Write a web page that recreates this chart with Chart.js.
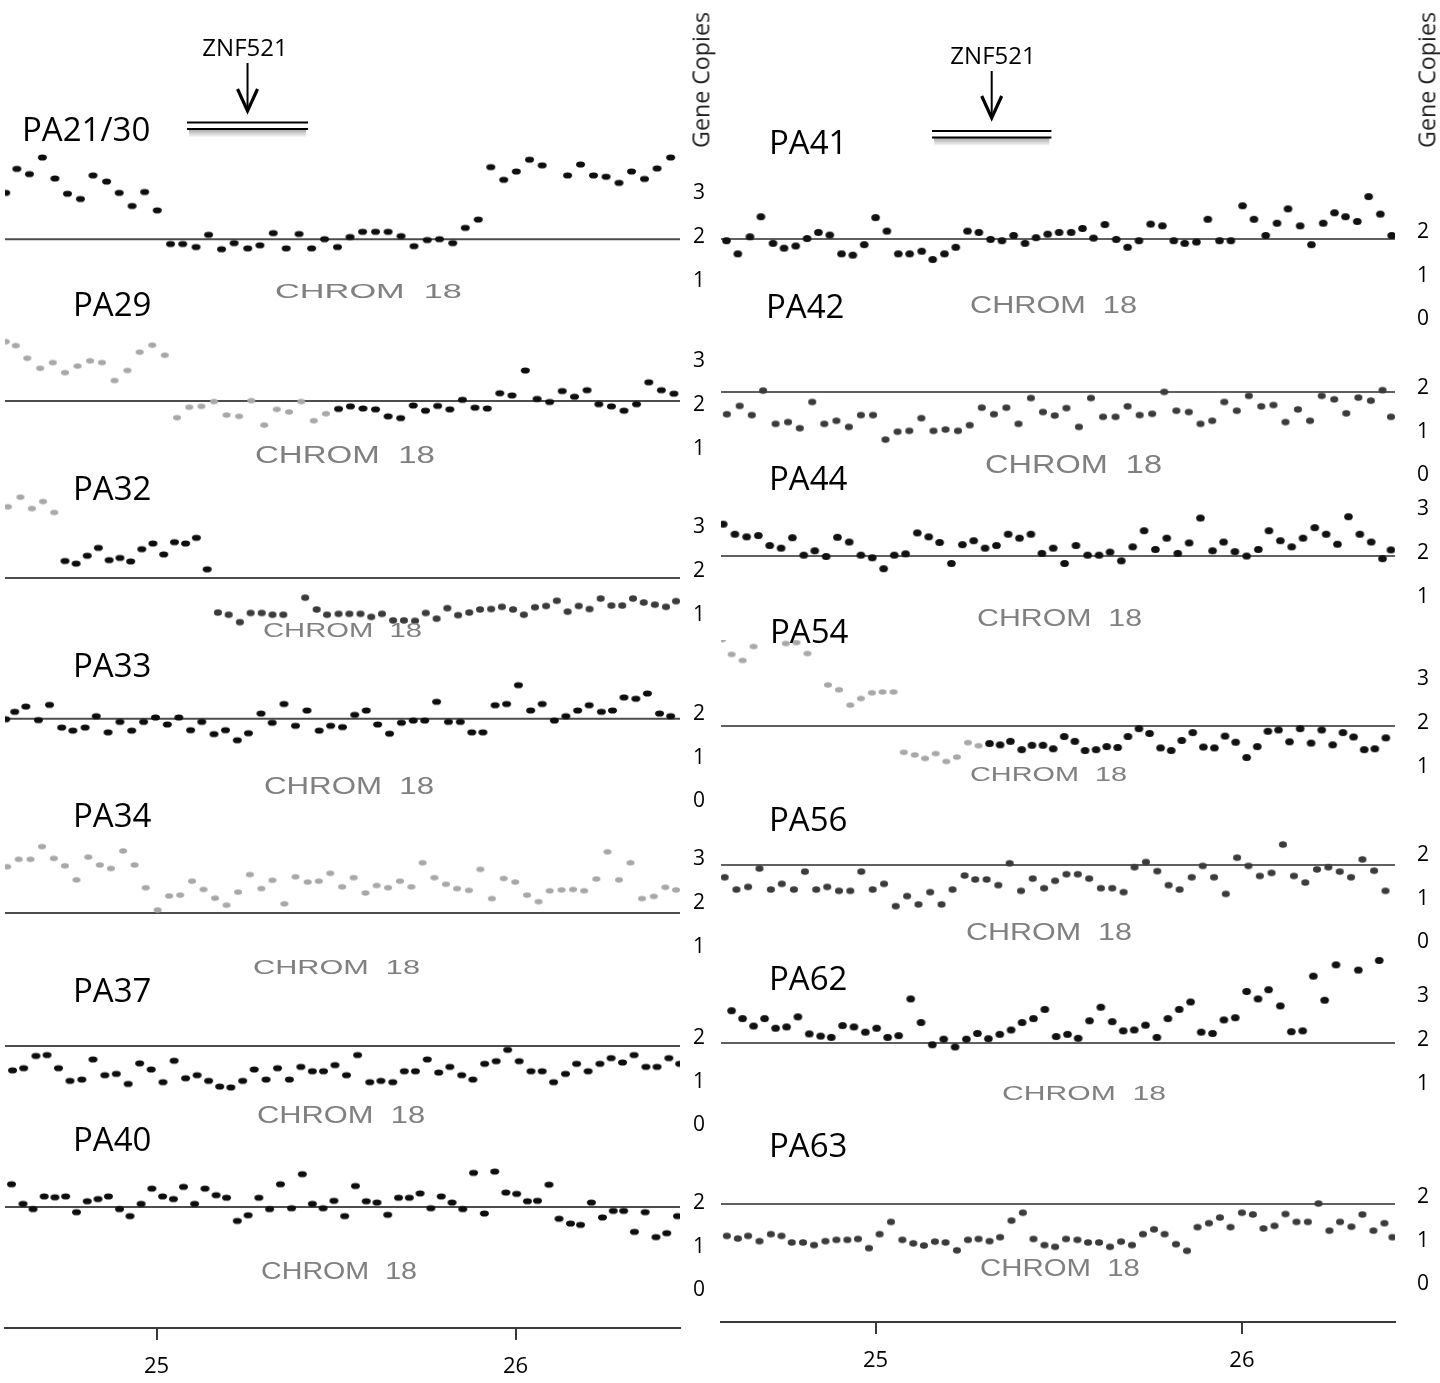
<!DOCTYPE html>
<html>
<head>
<meta charset="utf-8">
<title>ZNF521 gene copies, chromosome 18</title>
<script src="https://cdn.jsdelivr.net/npm/chart.js@4.4.1/dist/chart.umd.min.js"></script>
<style>
  html, body { margin: 0; padding: 0; background: #fff; }
  body { position: relative; width: 1440px; height: 1383px; overflow: hidden; font-family: 'Open Sans', sans-serif; }
  .col { position: absolute; top: 0; }
  .txt { position: absolute; white-space: pre; line-height: 1; }
  .name { font-size: 33px; color: #000; transform: translateY(-50%); }
  .chrom { font-family: 'Liberation Sans', Arial, sans-serif; color: #808080; transform-origin: 0 50%; }
  .gene { font-size: 24px; color: #000; transform: translate(-50%, -50%); }
  .ylab { color: #222; transform: translate(-50%, -50%) rotate(-90deg); }
</style>
</head>
<body>
<canvas id="leftChart" class="col" width="715" height="1383" style="left:0"></canvas>
<canvas id="rightChart" class="col" width="725" height="1383" style="left:715px"></canvas>
<div id="labels"></div>
<script>
// ---- Data: positions in Mb on chromosome 18, values in gene copies ----
const chromTicks = [25, 26];
const geneName = 'ZNF521';
const axisTitle = 'Gene Copies';
const chromLabel = 'CHROM  18';

const leftNames = ['PA21/30', 'PA29', 'PA32', 'PA33', 'PA34', 'PA37', 'PA40'];
const rightNames = ['PA41', 'PA42', 'PA44', 'PA54', 'PA56', 'PA62', 'PA63'];
const leftTicks = [[1, 2, 3], [1, 2, 3], [1, 2, 3], [0, 1, 2], [1, 2, 3], [0, 1, 2], [0, 1, 2]];
const rightTicks = [[0, 1, 2], [0, 1, 2], [1, 2, 3], [1, 2, 3], [0, 1, 2], [1, 2, 3], [0, 1, 2]];
const leftBaseline = [1.95, 2.09, 1.84, 1.89, 1.77, 1.82, 1.91];
const rightBaseline = [1.84, 1.91, 1.93, 1.93, 1.77, 1.93, 1.84];
const leftGene = [25.085, 25.422];
const rightGene = [25.154, 25.480];

const pa2130Pos = [24.580, 24.611, 24.646, 24.682, 24.717, 24.752, 24.788, 24.823, 24.861, 24.896, 24.932, 24.967, 25.002,
  25.039, 25.073, 25.110, 25.145, 25.181, 25.216, 25.254, 25.288, 25.325, 25.361, 25.397, 25.432, 25.468, 25.504, 25.539,
  25.574, 25.610, 25.645, 25.681, 25.717, 25.754, 25.788, 25.825, 25.860, 25.896, 25.931, 25.967, 26.002, 26.039, 26.074,
  26.145, 26.181, 26.217, 26.252, 26.288, 26.323, 26.359, 26.394, 26.432];
const pa2130Copies = [3.01, 3.56, 3.44, 3.82, 3.34, 2.99, 2.87, 3.41, 3.27, 3.01, 2.71, 3.03, 2.61,
  1.84, 1.84, 1.77, 2.05, 1.72, 1.86, 1.74, 1.81, 2.09, 1.74, 2.07, 1.74, 1.95, 1.77, 2.00,
  2.12, 2.12, 2.12, 2.02, 1.79, 1.93, 1.95, 1.86, 2.21, 2.40, 3.60, 3.31, 3.50, 3.77, 3.64,
  3.41, 3.66, 3.41, 3.38, 3.24, 3.50, 3.33, 3.57, 3.82];

const pa29GrayPos = [24.580, 24.608, 24.640, 24.676, 24.711, 24.745, 24.780, 24.815, 24.848, 24.883, 24.919, 24.953, 24.988,
  25.023, 25.057, 25.091, 25.125, 25.160, 25.195, 25.230, 25.264, 25.300, 25.335, 25.369, 25.403, 25.438, 25.472];
const pa29GrayCopies = [3.45, 3.36, 3.07, 2.84, 2.97, 2.74, 2.89, 3.01, 2.97, 2.56, 2.79, 3.21, 3.37,
  3.14, 1.71, 1.95, 1.97, 2.08, 1.77, 1.74, 2.10, 1.54, 1.90, 1.84, 2.08, 1.64, 1.80];
const pa29Pos = [25.507, 25.540, 25.575, 25.610, 25.645, 25.680, 25.715, 25.749, 25.783, 25.817, 25.852, 25.887, 25.921,
  25.956, 25.990, 26.027, 26.060, 26.095, 26.130, 26.164, 26.199, 26.232, 26.267, 26.302, 26.337, 26.371, 26.406, 26.441];
const pa29Copies = [1.91, 1.97, 1.92, 1.90, 1.74, 1.70, 1.99, 1.87, 1.98, 1.90, 2.12, 1.94, 1.92,
  2.27, 2.22, 2.79, 2.14, 2.07, 2.32, 2.19, 2.34, 2.02, 1.97, 1.87, 2.02, 2.52, 2.34, 2.26];

const pa32GrayPos = [24.586, 24.621, 24.653, 24.684, 24.715];
const pa32GrayCopies = [3.47, 3.69, 3.43, 3.59, 3.34];
const pa32Pos = [24.745, 24.776, 24.807, 24.838, 24.868, 24.898, 24.928, 24.959, 24.990, 25.020, 25.050, 25.081, 25.111, 25.141];
const pa32Copies = [2.23, 2.17, 2.35, 2.53, 2.25, 2.30, 2.22, 2.50, 2.63, 2.38, 2.66, 2.63, 2.76, 2.04];
const pa32LowPos = [25.171, 25.201, 25.232, 25.262, 25.293, 25.323, 25.353, 25.414, 25.446, 25.475, 25.507, 25.537, 25.568,
  25.598, 25.628, 25.659, 25.689, 25.720, 25.750, 25.780, 25.810, 25.840, 25.871, 25.901, 25.932, 25.962, 25.993, 26.023,
  26.054, 26.085, 26.115, 26.145, 26.176, 26.206, 26.237, 26.267, 26.297, 26.327, 26.357, 26.388, 26.419, 26.447];
const pa32LowCopies = [1.05, 1.00, 0.83, 1.04, 1.04, 1.00, 1.00, 1.39, 1.12, 1.00, 1.02, 1.02, 1.02,
  0.95, 1.02, 0.87, 0.87, 0.86, 1.04, 0.91, 1.15, 0.99, 1.05, 1.12, 1.13, 1.18, 1.12, 1.00,
  1.17, 1.20, 1.32, 1.07, 1.20, 1.13, 1.37, 1.21, 1.21, 1.37, 1.28, 1.23, 1.18, 1.31];

const pa33Pos = [24.580, 24.605, 24.636, 24.671, 24.702, 24.736, 24.767, 24.801, 24.832, 24.865, 24.898, 24.931, 24.964,
  24.997, 25.030, 25.062, 25.095, 25.126, 25.160, 25.192, 25.225, 25.256, 25.291, 25.322, 25.355, 25.387, 25.419, 25.453,
  25.485, 25.518, 25.552, 25.584, 25.616, 25.649, 25.682, 25.715, 25.747, 25.780, 25.813, 25.846, 25.878, 25.909, 25.943,
  25.975, 26.008, 26.042, 26.074, 26.108, 26.140, 26.173, 26.205, 26.239, 26.270, 26.302, 26.335, 26.367, 26.401, 26.432];
const pa33Copies = [1.88, 2.05, 2.17, 1.86, 2.21, 1.69, 1.62, 1.69, 1.95, 1.58, 1.82, 1.62, 1.82,
  1.92, 1.76, 1.92, 1.63, 1.82, 1.54, 1.63, 1.40, 1.56, 2.01, 1.80, 2.23, 1.73, 2.08, 1.62,
  1.73, 1.70, 1.98, 2.08, 1.76, 1.55, 1.80, 1.85, 1.85, 2.28, 1.82, 1.82, 1.58, 1.58, 2.20,
  2.23, 2.66, 2.08, 2.23, 1.85, 1.95, 2.08, 2.20, 2.05, 2.08, 2.38, 2.35, 2.47, 2.01, 1.95];

const pa34Pos = [24.584, 24.616, 24.649, 24.681, 24.714, 24.745, 24.777, 24.810, 24.842, 24.873, 24.907, 24.939, 24.970,
  25.003, 25.035, 25.066, 25.099, 25.131, 25.163, 25.195, 25.227, 25.260, 25.292, 25.323, 25.356, 25.387, 25.421, 25.452,
  25.484, 25.517, 25.549, 25.582, 25.613, 25.645, 25.678, 25.710, 25.741, 25.774, 25.806, 25.837, 25.870, 25.902, 25.934,
  25.967, 25.999, 26.032, 26.064, 26.095, 26.128, 26.160, 26.191, 26.225, 26.256, 26.288, 26.320, 26.352, 26.385, 26.417, 26.447];
const pa34Copies = [2.83, 3.00, 3.00, 3.29, 3.02, 2.85, 2.53, 3.05, 2.87, 2.79, 3.19, 2.87, 2.35,
  1.84, 2.16, 2.18, 2.50, 2.31, 2.11, 1.95, 2.25, 2.65, 2.33, 2.52, 1.98, 2.60, 2.48, 2.50,
  2.68, 2.37, 2.58, 2.23, 2.40, 2.35, 2.50, 2.37, 2.92, 2.58, 2.43, 2.33, 2.29, 2.77, 2.10,
  2.56, 2.48, 2.18, 2.03, 2.28, 2.30, 2.31, 2.28, 2.55, 3.17, 2.53, 2.92, 2.10, 2.15, 2.36, 2.30];

const pa37Pos = [24.599, 24.630, 24.664, 24.695, 24.727, 24.759, 24.792, 24.823, 24.856, 24.888, 24.921, 24.953, 24.985,
  25.018, 25.049, 25.081, 25.113, 25.145, 25.176, 25.207, 25.240, 25.272, 25.305, 25.337, 25.370, 25.402, 25.434, 25.465,
  25.497, 25.529, 25.560, 25.594, 25.625, 25.658, 25.690, 25.721, 25.754, 25.786, 25.817, 25.850, 25.881, 25.914, 25.946,
  25.978, 26.010, 26.043, 26.074, 26.106, 26.139, 26.170, 26.202, 26.235, 26.266, 26.298, 26.330, 26.363, 26.394, 26.427, 26.457];
const pa37Copies = [1.26, 1.31, 1.59, 1.61, 1.31, 1.02, 1.05, 1.51, 1.15, 1.18, 0.95, 1.42, 1.28,
  0.99, 1.48, 1.08, 1.15, 1.02, 0.89, 0.87, 1.02, 1.28, 1.05, 1.31, 1.05, 1.34, 1.24, 1.24,
  1.38, 1.15, 1.61, 0.99, 1.02, 0.99, 1.24, 1.24, 1.51, 1.21, 1.34, 1.15, 1.05, 1.41, 1.47,
  1.73, 1.47, 1.24, 1.24, 0.99, 1.18, 1.41, 1.24, 1.41, 1.54, 1.44, 1.61, 1.34, 1.34, 1.54, 1.41];

const pa40Pos = [24.596, 24.628, 24.656, 24.687, 24.717, 24.747, 24.777, 24.807, 24.837, 24.866, 24.897, 24.926, 24.957,
  24.987, 25.017, 25.047, 25.075, 25.106, 25.135, 25.166, 25.195, 25.225, 25.255, 25.285, 25.315, 25.345, 25.376, 25.406,
  25.434, 25.464, 25.494, 25.524, 25.554, 25.584, 25.614, 25.644, 25.674, 25.704, 25.734, 25.764, 25.793, 25.823, 25.853,
  25.883, 25.913, 25.942, 25.973, 26.003, 26.033, 26.061, 26.093, 26.121, 26.153, 26.181, 26.211, 26.242, 26.272, 26.301,
  26.331, 26.361, 26.391, 26.421, 26.451];
const pa40Copies = [2.43, 1.98, 1.86, 2.15, 2.13, 2.15, 1.79, 2.04, 2.09, 2.15, 1.86, 1.70, 1.98,
  2.33, 2.15, 2.09, 2.37, 1.98, 2.33, 2.18, 2.12, 1.59, 1.72, 2.12, 1.86, 2.43, 1.88, 2.66,
  1.98, 1.88, 2.05, 1.70, 2.39, 2.04, 2.01, 1.73, 2.12, 2.12, 2.22, 1.88, 2.15, 2.01, 1.86,
  2.69, 1.76, 2.72, 2.24, 2.21, 2.04, 2.05, 2.42, 1.64, 1.53, 1.50, 2.01, 1.67, 1.82, 1.82,
  1.34, 1.79, 1.22, 1.31, 1.70];

const pa41Pos = [24.593, 24.624, 24.657, 24.687, 24.720, 24.750, 24.782, 24.813, 24.844, 24.875, 24.907, 24.938, 24.969,
  25.000, 25.031, 25.062, 25.093, 25.126, 25.156, 25.188, 25.219, 25.251, 25.282, 25.314, 25.345, 25.377, 25.408, 25.438,
  25.470, 25.501, 25.534, 25.565, 25.595, 25.626, 25.657, 25.688, 25.719, 25.751, 25.783, 25.814, 25.844, 25.876, 25.907,
  25.939, 25.970, 26.002, 26.033, 26.065, 26.096, 26.126, 26.159, 26.190, 26.222, 26.253, 26.283, 26.315, 26.346, 26.378, 26.409];
const pa41Copies = [1.80, 1.50, 1.89, 2.35, 1.74, 1.63, 1.68, 1.85, 1.99, 1.93, 1.50, 1.47, 1.71,
  2.33, 2.02, 1.50, 1.50, 1.56, 1.37, 1.50, 1.65, 2.02, 1.99, 1.83, 1.80, 1.92, 1.74, 1.87,
  1.95, 1.99, 1.99, 2.08, 1.86, 2.17, 1.83, 1.65, 1.80, 2.18, 2.14, 1.80, 1.74, 1.77, 2.29,
  1.80, 1.80, 2.60, 2.29, 1.92, 2.20, 2.53, 2.14, 1.71, 2.20, 2.44, 2.35, 2.24, 2.81, 2.41, 1.92];

const pa42Pos = [24.594, 24.629, 24.662, 24.693, 24.727, 24.761, 24.793, 24.827, 24.860, 24.893, 24.927, 24.960, 24.993,
  25.027, 25.060, 25.092, 25.125, 25.158, 25.191, 25.225, 25.257, 25.290, 25.323, 25.357, 25.390, 25.424, 25.457, 25.489,
  25.521, 25.555, 25.588, 25.621, 25.655, 25.688, 25.721, 25.755, 25.788, 25.821, 25.855, 25.887, 25.919, 25.952, 25.986,
  26.019, 26.053, 26.086, 26.119, 26.153, 26.186, 26.218, 26.252, 26.285, 26.318, 26.352, 26.384, 26.407];
const pa42Copies = [1.40, 1.59, 1.38, 1.94, 1.18, 1.22, 1.08, 1.68, 1.18, 1.25, 1.11, 1.38, 1.38,
  0.82, 1.00, 1.02, 1.31, 1.02, 1.05, 1.02, 1.15, 1.55, 1.40, 1.55, 1.18, 1.77, 1.45, 1.37,
  1.54, 1.11, 1.77, 1.34, 1.34, 1.58, 1.38, 1.41, 1.91, 1.48, 1.45, 1.18, 1.25, 1.68, 1.48,
  1.82, 1.58, 1.61, 1.22, 1.51, 1.25, 1.82, 1.74, 1.42, 1.78, 1.71, 1.95, 1.34];

const pa44Pos = [24.584, 24.616, 24.648, 24.680, 24.711, 24.742, 24.773, 24.804, 24.834, 24.865, 24.896, 24.928, 24.960,
  24.991, 25.022, 25.051, 25.082, 25.114, 25.145, 25.175, 25.207, 25.237, 25.268, 25.299, 25.330, 25.362, 25.393, 25.424,
  25.454, 25.485, 25.516, 25.547, 25.579, 25.610, 25.640, 25.671, 25.702, 25.733, 25.764, 25.795, 25.825, 25.856, 25.887,
  25.920, 25.950, 25.981, 26.013, 26.045, 26.074, 26.105, 26.136, 26.167, 26.199, 26.230, 26.261, 26.291, 26.322, 26.353,
  26.384, 26.407];
const pa44Copies = [2.66, 2.43, 2.37, 2.40, 2.17, 2.11, 2.35, 1.95, 2.05, 1.92, 2.36, 2.25, 1.95,
  1.89, 1.64, 1.95, 1.98, 2.46, 2.37, 2.24, 1.76, 2.19, 2.28, 2.11, 2.17, 2.43, 2.34, 2.43,
  1.99, 2.11, 1.76, 2.17, 1.95, 1.95, 2.02, 1.82, 2.14, 2.51, 2.08, 2.34, 1.99, 2.23, 2.80,
  2.05, 2.25, 2.03, 1.93, 2.08, 2.51, 2.28, 2.14, 2.34, 2.58, 2.43, 2.20, 2.83, 2.43, 2.25,
  1.87, 2.07];

const pa54GrayPos = [24.581, 24.607, 24.637, 24.667, 24.755, 24.784, 24.814, 24.870, 24.900, 24.931, 24.960,
  24.990, 25.019, 25.049, 25.077, 25.107, 25.135, 25.164, 25.193, 25.222, 25.252, 25.281];
const pa54GrayCopies = [3.91, 3.57, 3.43, 3.75, 3.82, 3.84, 3.59, 2.87, 2.76, 2.41, 2.56,
  2.69, 2.71, 2.71, 1.33, 1.27, 1.19, 1.30, 1.12, 1.22, 1.55, 1.48];
const pa54Pos = [25.311, 25.340, 25.368, 25.399, 25.427, 25.457, 25.485, 25.515, 25.544, 25.572, 25.602, 25.631, 25.661,
  25.689, 25.719, 25.748, 25.778, 25.807, 25.836, 25.866, 25.895, 25.925, 25.954, 25.983, 26.013, 26.042, 26.071, 26.100,
  26.130, 26.159, 26.189, 26.218, 26.248, 26.276, 26.305, 26.334, 26.363, 26.393];
const pa54Copies = [1.53, 1.50, 1.58, 1.39, 1.49, 1.49, 1.41, 1.69, 1.58, 1.37, 1.39, 1.46, 1.44,
  1.69, 1.87, 1.76, 1.43, 1.37, 1.60, 1.78, 1.45, 1.43, 1.70, 1.56, 1.21, 1.46, 1.81, 1.84,
  1.57, 1.87, 1.54, 1.84, 1.50, 1.78, 1.68, 1.39, 1.41, 1.66];

const pa56Pos = [24.588, 24.620, 24.652, 24.683, 24.714, 24.744, 24.777, 24.807, 24.838, 24.868, 24.900, 24.931, 24.961,
  24.992, 25.023, 25.055, 25.086, 25.117, 25.149, 25.180, 25.210, 25.243, 25.272, 25.303, 25.335, 25.366, 25.397, 25.429,
  25.460, 25.490, 25.521, 25.552, 25.583, 25.615, 25.646, 25.677, 25.707, 25.738, 25.769, 25.800, 25.830, 25.863, 25.893,
  25.924, 25.956, 25.987, 26.018, 26.049, 26.081, 26.112, 26.142, 26.173, 26.205, 26.236, 26.267, 26.298, 26.329, 26.361, 26.392];
const pa56Copies = [1.49, 1.21, 1.27, 1.69, 1.21, 1.34, 1.21, 1.62, 1.21, 1.27, 1.18, 1.18, 1.62,
  1.21, 1.34, 0.83, 1.06, 0.87, 1.15, 0.87, 1.21, 1.53, 1.44, 1.44, 1.31, 1.81, 1.18, 1.46,
  1.24, 1.41, 1.56, 1.56, 1.46, 1.24, 1.24, 1.15, 1.72, 1.84, 1.63, 1.31, 1.21, 1.49, 1.75,
  1.49, 1.11, 1.94, 1.75, 1.52, 1.59, 2.24, 1.52, 1.37, 1.67, 1.72, 1.62, 1.49, 1.90, 1.64, 1.18];

const pa62Pos = [24.607, 24.637, 24.667, 24.697, 24.727, 24.757, 24.788, 24.819, 24.850, 24.879, 24.910, 24.941, 24.972,
  25.003, 25.033, 25.063, 25.096, 25.124, 25.155, 25.186, 25.217, 25.248, 25.278, 25.308, 25.339, 25.370, 25.400, 25.431,
  25.462, 25.493, 25.524, 25.553, 25.584, 25.615, 25.646, 25.676, 25.706, 25.737, 25.768, 25.798, 25.829, 25.860, 25.889,
  25.920, 25.951, 25.982, 26.013, 26.044, 26.073, 26.105, 26.135, 26.166, 26.195, 26.226, 26.257, 26.318, 26.375];
const pa62Copies = [2.67, 2.49, 2.32, 2.49, 2.27, 2.30, 2.53, 2.14, 2.09, 2.06, 2.33, 2.30, 2.18,
  2.27, 2.06, 2.10, 2.94, 2.40, 1.89, 2.02, 1.84, 2.02, 2.15, 2.03, 2.13, 2.23, 2.40, 2.49,
  2.70, 2.08, 2.13, 2.04, 2.44, 2.75, 2.42, 2.21, 2.23, 2.34, 2.06, 2.49, 2.70, 2.87, 2.18,
  2.15, 2.46, 2.51, 3.11, 2.94, 3.15, 2.78, 2.19, 2.21, 3.46, 2.91, 3.72, 3.60, 3.82];

const pa63Pos = [24.594, 24.624, 24.652, 24.683, 24.714, 24.743, 24.771, 24.802, 24.832, 24.863, 24.893, 24.923, 24.952,
  24.982, 25.011, 25.042, 25.073, 25.103, 25.132, 25.162, 25.191, 25.222, 25.252, 25.281, 25.311, 25.340, 25.371, 25.402,
  25.431, 25.461, 25.490, 25.520, 25.551, 25.580, 25.610, 25.640, 25.670, 25.700, 25.730, 25.760, 25.789, 25.820, 25.850,
  25.879, 25.910, 25.940, 25.969, 26.000, 26.030, 26.059, 26.089, 26.119, 26.149, 26.180, 26.209, 26.239, 26.268, 26.299,
  26.329, 26.359, 26.389, 26.411];
const pa63Copies = [1.11, 1.05, 1.11, 0.99, 1.15, 1.11, 0.96, 0.96, 0.90, 0.99, 1.02, 1.02, 1.04,
  0.83, 1.15, 1.43, 1.02, 0.94, 0.89, 0.98, 0.96, 0.78, 1.02, 1.04, 0.99, 1.08, 1.46, 1.64,
  1.04, 0.90, 0.86, 1.04, 1.02, 0.96, 0.96, 0.86, 0.98, 0.90, 1.15, 1.26, 1.15, 0.92, 0.77,
  1.31, 1.40, 1.53, 1.31, 1.64, 1.60, 1.28, 1.34, 1.61, 1.43, 1.43, 1.85, 1.23, 1.43, 1.32,
  1.60, 1.23, 1.40, 1.08];

// ---- Styles & layout ----
Chart.defaults.font.family = "'Open Sans', sans-serif";

function makeDot(color, w, h) {
  const c = document.createElement('canvas');
  c.width = Math.ceil(w) + 2;
  c.height = Math.ceil(h) + 2;
  const g = c.getContext('2d');
  g.fillStyle = color;
  g.beginPath();
  g.ellipse(c.width / 2, c.height / 2, w / 2, h / 2, 0, 0, Math.PI * 2);
  g.fill();
  return c;
}

const DOT = {
  black: makeDot('#0d0d0d', 9, 6.2),
  round: makeDot('#111', 8.6, 7),
  gray: makeDot('#a8a8a8', 8, 5.6),
  dark: makeDot('#3b3b3b', 8, 6.6)
};

const leftSeries = [
  [{ pos: pa2130Pos, copies: pa2130Copies, dot: DOT.black }],
  [{ pos: pa29GrayPos, copies: pa29GrayCopies, dot: DOT.gray }, { pos: pa29Pos, copies: pa29Copies, dot: DOT.black }],
  [{ pos: pa32GrayPos, copies: pa32GrayCopies, dot: DOT.gray }, { pos: pa32Pos, copies: pa32Copies, dot: DOT.black },
   { pos: pa32LowPos, copies: pa32LowCopies, dot: DOT.dark }],
  [{ pos: pa33Pos, copies: pa33Copies, dot: DOT.black }],
  [{ pos: pa34Pos, copies: pa34Copies, dot: DOT.gray }],
  [{ pos: pa37Pos, copies: pa37Copies, dot: DOT.black }],
  [{ pos: pa40Pos, copies: pa40Copies, dot: DOT.black }]
];
const rightSeries = [
  [{ pos: pa41Pos, copies: pa41Copies, dot: DOT.round }],
  [{ pos: pa42Pos, copies: pa42Copies, dot: DOT.dark }],
  [{ pos: pa44Pos, copies: pa44Copies, dot: DOT.round }],
  [{ pos: pa54GrayPos, copies: pa54GrayCopies, dot: DOT.gray }, { pos: pa54Pos, copies: pa54Copies, dot: DOT.round }],
  [{ pos: pa56Pos, copies: pa56Copies, dot: DOT.dark }],
  [{ pos: pa62Pos, copies: pa62Copies, dot: DOT.round }],
  [{ pos: pa63Pos, copies: pa63Copies, dot: DOT.dark }]
];

// [axis min, axis max, slot height]
const LEFT_LAYOUT = {
  xMin: 24.578, xMax: 26.458, padLeft: 5, padBottom: 0, axisWidth: 35, tickPad: 13,
  ranges: [[0.558, 4.220, 160], [0.627, 4.403, 165], [0.421, 4.426, 175], [0.032, 3.693, 160],
           [0.352, 4.357, 175], [-0.105, 3.442, 155], [-0.860, 3.670, 198]],
  mark: { y: 122.5, arrowTop: 63, arrowTip: 111 },
  line: { color: '#4d4d4d', width: 2 }
};
const RIGHT_LAYOUT = {
  xMin: 24.578, xMax: 26.418, padLeft: 6, padBottom: 6, axisWidth: 45, tickPad: 22,
  ranges: [[-0.243, 4.105, 190], [-0.105, 3.327, 150], [0.009, 3.670, 160], [0.238, 3.899, 160],
           [-0.174, 3.259, 150], [-0.059, 4.059, 180], [-0.860, 3.533, 192]],
  mark: { y: 131, arrowTop: 71, arrowTip: 118 },
  line: { color: '#2b2b2b', width: 1.6 }
};

// ZNF521 double bar and arrow, placed with the x scale
const geneMarker = {
  id: 'geneMarker',
  afterDraw(chart, args, opts) {
    const ctx = chart.ctx;
    const xs = chart.scales.x;
    const x0 = xs.getPixelForValue(opts.start);
    const x1 = xs.getPixelForValue(opts.end);
    const xm = (x0 + x1) / 2;
    const y = opts.y;
    ctx.save();
    const grad = ctx.createLinearGradient(0, y + 7, 0, y + 15);
    grad.addColorStop(0, 'rgba(0,0,0,0.35)');
    grad.addColorStop(1, 'rgba(0,0,0,0)');
    ctx.fillStyle = grad;
    ctx.fillRect(x0 + 2, y + 7, x1 - x0 - 4, 8);
    ctx.strokeStyle = '#000';
    ctx.lineWidth = 2.2;
    ctx.beginPath();
    ctx.moveTo(x0, y); ctx.lineTo(x1, y);
    ctx.moveTo(x0, y + 6.5); ctx.lineTo(x1, y + 6.5);
    ctx.stroke();
    ctx.lineWidth = 2;
    ctx.beginPath();
    ctx.moveTo(xm, opts.arrowTop); ctx.lineTo(xm, opts.arrowTip - 2);
    ctx.stroke();
    ctx.lineWidth = 3.2;
    ctx.beginPath();
    ctx.moveTo(xm - 10, opts.arrowTip - 22); ctx.lineTo(xm, opts.arrowTip); ctx.lineTo(xm + 10, opts.arrowTip - 22);
    ctx.stroke();
    ctx.restore();
  }
};

function buildColumn(canvasId, series, baselines, ticks, gene, L) {
  const scales = {
    x: {
      type: 'linear', min: L.xMin, max: L.xMax,
      afterBuildTicks: s => { s.ticks = chromTicks.map(v => ({ value: v })); },
      afterFit: s => { s.height = 55; },
      grid: { drawOnChartArea: false, drawTicks: true, tickLength: 12, color: '#3a3a3a', lineWidth: 2 },
      border: { display: true, color: '#3a3a3a', width: 2 },
      ticks: { color: '#000', padding: 14, maxRotation: 0, font: { size: 22 } }
    }
  };
  const datasets = [];
  series.forEach((panel, i) => {
    const id = 'y' + i;
    const [min, max, weight] = L.ranges[i];
    scales[id] = {
      type: 'linear', position: 'right', stack: 'panels', stackWeight: weight, min, max,
      afterBuildTicks: s => { s.ticks = ticks[i].map(v => ({ value: v })); },
      afterFit: s => { s.width = L.axisWidth; },
      grid: { display: false, drawTicks: false },
      border: { display: false },
      ticks: { color: '#000', padding: L.tickPad, font: { size: 21 } }
    };
    datasets.push({
      type: 'line', yAxisID: id, order: 2,
      data: [{ x: L.xMin, y: baselines[i] }, { x: L.xMax, y: baselines[i] }],
      borderColor: L.line.color, borderWidth: L.line.width, pointRadius: 0, fill: false
    });
    panel.forEach(s => {
      datasets.push({
        type: 'scatter', yAxisID: id, order: 1,
        data: s.pos.map((x, j) => ({ x, y: s.copies[j] })),
        pointStyle: s.dot, pointRadius: 4
      });
    });
  });
  return new Chart(document.getElementById(canvasId), {
    type: 'scatter',
    data: { datasets },
    options: {
      responsive: false,
      animation: false,
      events: [],
      layout: { padding: { top: 140, left: L.padLeft, right: 0, bottom: L.padBottom } },
      plugins: {
        legend: { display: false },
        tooltip: { enabled: false },
        geneMarker: { start: gene[0], end: gene[1], y: L.mark.y, arrowTop: L.mark.arrowTop, arrowTip: L.mark.arrowTip }
      },
      scales
    },
    plugins: [geneMarker]
  });
}

buildColumn('leftChart', leftSeries, leftBaseline, leftTicks, leftGene, LEFT_LAYOUT);
buildColumn('rightChart', rightSeries, rightBaseline, rightTicks, rightGene, RIGHT_LAYOUT);

// ---- Text labels ----
const nameSpots = [[22, 128], [73, 303], [73, 487], [73, 664], [73, 814], [73, 989], [73, 1138],
                   [769, 141], [766, 305], [769, 477], [770, 630], [769, 818], [769, 977], [769, 1144]];
// [left, right, centre y, font size]
const chromSpots = [[275, 462, 290, 21], [255, 435, 455, 23], [263, 422, 630, 20], [264, 434, 786, 24],
                    [253, 420, 966, 21], [257, 425, 1115, 24], [261, 417, 1271, 24],
                    [970, 1137, 305, 23], [985, 1162, 464, 25], [977, 1142, 618, 24], [970, 1127, 774, 20],
                    [966, 1132, 932, 24], [1002, 1166, 1093, 20], [980, 1140, 1268, 24]];
const geneSpots = [[245, 47], [993, 55]];
const titleSpots = [[701, 80], [1427, 80]];

const box = document.getElementById('labels');
function addText(text, cls, left, top) {
  const el = document.createElement('div');
  el.className = 'txt ' + cls;
  el.textContent = text;
  el.style.left = left + 'px';
  el.style.top = top + 'px';
  box.appendChild(el);
  return el;
}

leftNames.concat(rightNames).forEach((n, i) => addText(n, 'name', nameSpots[i][0], nameSpots[i][1]));

chromSpots.forEach(([x0, x1, yc, size]) => {
  const el = addText(chromLabel, 'chrom', x0, yc);
  el.style.fontSize = size + 'px';
  const w = el.getBoundingClientRect().width;
  el.style.transform = 'translateY(-50%) scaleX(' + ((x1 - x0) / w).toFixed(3) + ')';
});

geneSpots.forEach(([x, y]) => addText(geneName, 'gene', x, y));

titleSpots.forEach(([x, y]) => {
  const el = addText(axisTitle, 'ylab', x, y);
  el.style.fontSize = '21px';
  const w = el.getBoundingClientRect().height;
  el.style.fontSize = (21 * 136 / w).toFixed(2) + 'px';
});
</script>
</body>
</html>
